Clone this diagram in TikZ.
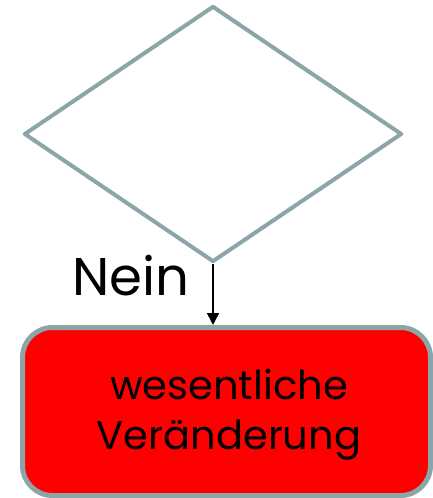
\documentclass[tikz,border=0pt]{standalone}
\usepackage{fontspec}
\setmainfont{Poppins}
\usetikzlibrary{shapes.geometric,arrows.meta}
\definecolor{edgegray}{HTML}{8BA5A8}
\tikzset{
  decision/.style={diamond, draw=edgegray, line width=4pt, inner sep=0pt, minimum width=378pt, minimum height=256pt, line join=round},
  outcome/.style={rectangle, draw=edgegray, fill=red, line width=5pt, rounded corners=30pt, minimum width=408pt, minimum height=168pt},
  outtext/.style={align=center, inner sep=0pt, font=\fontsize{40}{50}\selectfont},
  flow/.style={line width=1.5pt, -{Triangle[length=12pt,width=12pt]}},
  lbl/.style={font=\fontsize{53}{60}\selectfont, inner sep=0pt}
}
\begin{document}
\begin{tikzpicture}[x=1pt,y=-1pt]
\useasboundingbox (0,0) rectangle (432,498);
\node[decision] (d) at (213,134) {};
\node[outcome] (b) at (226.5,411.5) {};
\node[outtext] (bt) at (229,415) {wesentliche\\Veränderung};
\draw[flow] (d.south) -- (d.south |- b.north);
\node[lbl, anchor=base east] (n) at (190,295) {Nein};
\end{tikzpicture}
\end{document}
